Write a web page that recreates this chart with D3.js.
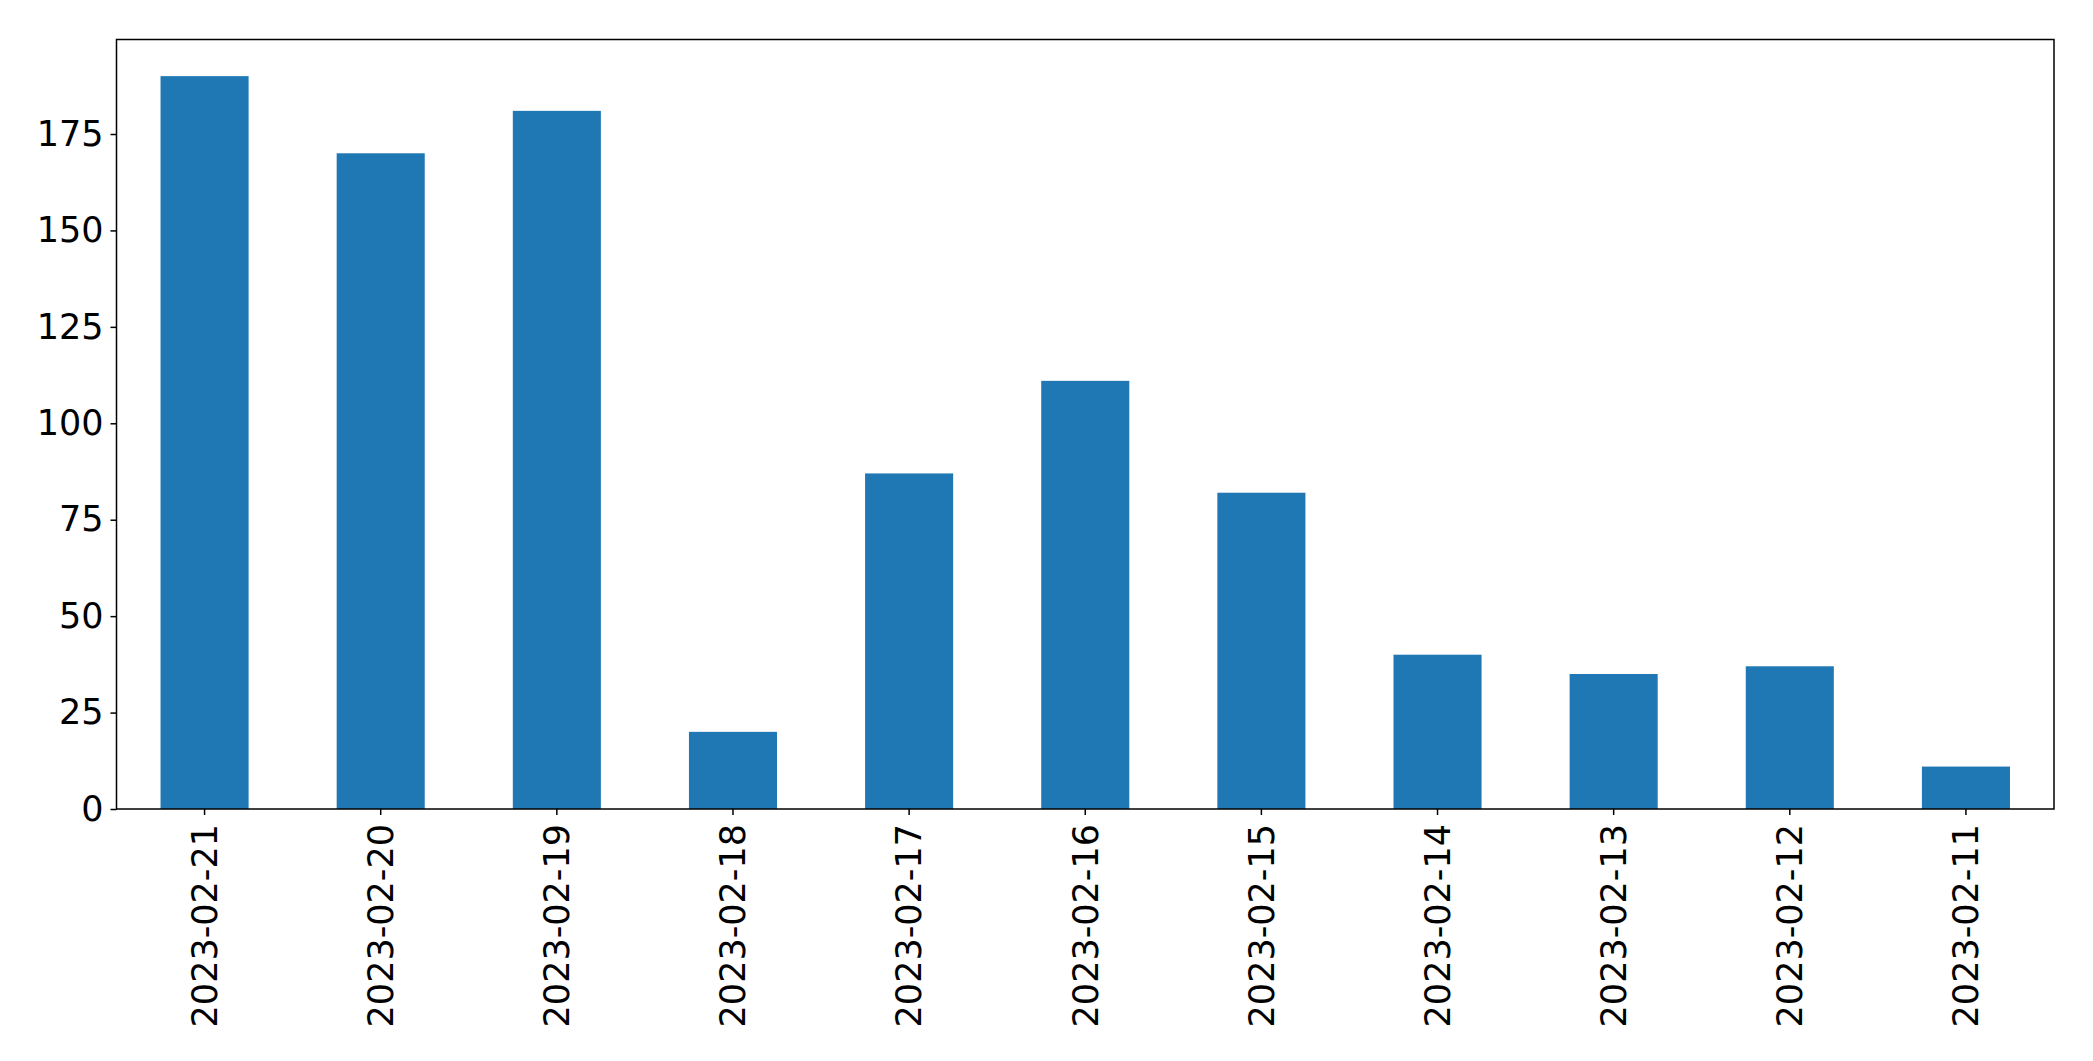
<!DOCTYPE html>
<html>
<head>
<meta charset="utf-8">
<script src="https://cdn.jsdelivr.net/npm/d3@7"></script>
<style>
  html, body { margin: 0; padding: 0; background: #fff; }
  svg { display: block; }
</style>
</head>
<body>
<svg id="chart" width="2093" height="1061"></svg>
<script>
const categories = ["2023-02-21","2023-02-20","2023-02-19","2023-02-18","2023-02-17","2023-02-16","2023-02-15","2023-02-14","2023-02-13","2023-02-12","2023-02-11"];
const values = [190, 170, 181, 20, 87, 111, 82, 40, 35, 37, 11];
const yTicks = [0, 25, 50, 75, 100, 125, 150, 175];

const margin = {left: 116.5, right: 2054, top: 39.5, bottom: 809};
const svg = d3.select("#chart");

const x = d3.scaleBand().domain(categories).range([margin.left, margin.right]).paddingInner(0.5).paddingOuter(0.25);
const y = d3.scaleLinear().domain([0, d3.max(values) * 1.05]).range([margin.bottom, margin.top]);

svg.append("g").selectAll("rect").data(categories).join("rect")
  .attr("x", d => x(d))
  .attr("width", x.bandwidth())
  .attr("y", (d, i) => y(values[i]))
  .attr("height", (d, i) => y(0) - y(values[i]))
  .attr("fill", "#1f77b4");

const font = "'DejaVu Sans', sans-serif";

const yAxis = svg.append("g").attr("transform", `translate(${margin.left},0)`)
  .call(d3.axisLeft(y).tickValues(yTicks).tickSize(6).tickPadding(7).tickFormat(d3.format("d")));
yAxis.select(".domain").remove();
yAxis.selectAll("line").attr("stroke", "#000").attr("stroke-width", 1.5);
yAxis.selectAll("text").attr("font-family", font).attr("font-size", 35).attr("fill", "#000");

const xAxis = svg.append("g").attr("transform", `translate(0,${margin.bottom})`)
  .call(d3.axisBottom(x).tickSize(6).tickPadding(10));
xAxis.select(".domain").remove();
xAxis.selectAll("line").attr("stroke", "#000").attr("stroke-width", 1.5);
xAxis.selectAll("text")
  .attr("font-family", font).attr("font-size", 35).attr("fill", "#000")
  .attr("text-anchor", "end")
  .attr("x", 0).attr("y", 0)
  .attr("dy", "0.35em")
  .attr("transform", "translate(0,15) rotate(-90)");

svg.append("rect")
  .attr("x", margin.left).attr("y", margin.top)
  .attr("width", margin.right - margin.left).attr("height", margin.bottom - margin.top)
  .attr("fill", "none").attr("stroke", "#000").attr("stroke-width", 1.5);
</script>
</body>
</html>
